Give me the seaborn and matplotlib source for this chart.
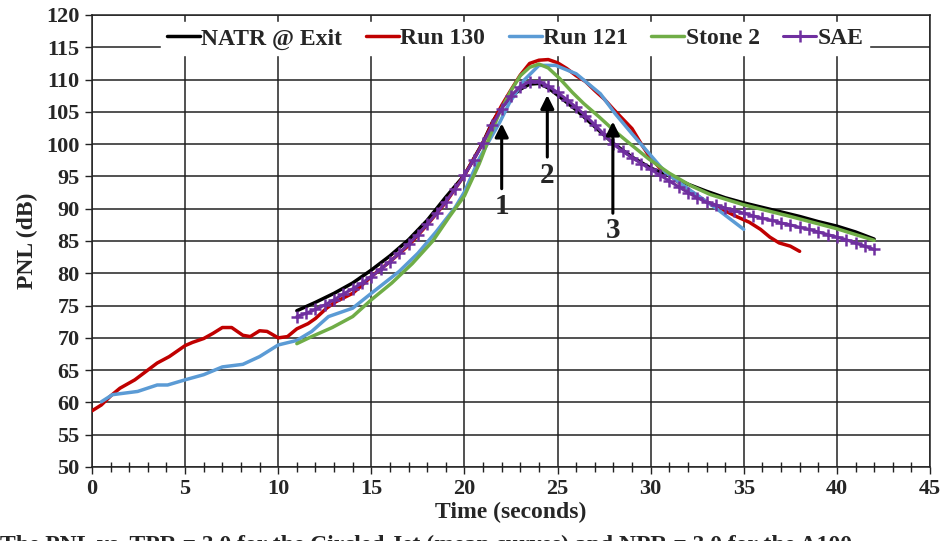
import matplotlib
matplotlib.use("Agg")
import matplotlib.pyplot as plt
import seaborn as sns
import pandas as pd
import numpy as np

# ---- data ----
natr_t = [11, 12, 13, 14, 15, 16, 17, 18, 19, 20, 21, 21.5, 22, 22.5, 23, 23.5, 24, 24.5, 25,
          26, 27, 28, 29, 30, 31, 32, 33, 34, 35, 36, 37, 38, 39, 40, 41, 42]
natr_v = [74.2, 75.5, 76.9, 78.5, 80.5, 82.7, 85.2, 88.2, 91.8, 95.2, 100.3, 103.4, 105.7, 107.3,
          108.5, 109.3, 109.4, 108.7, 107.6, 105.3, 102.7, 100.1, 98.0, 96.3, 95.1, 93.8, 92.7,
          91.7, 90.9, 90.2, 89.5, 88.8, 88.0, 87.3, 86.4, 85.3]

run130_t = [0, 0.5, 1.0, 1.5, 2.3, 2.9, 3.5, 4.15, 5.0, 5.4, 6.0, 6.5, 7.0, 7.5, 8.1, 8.5, 9.0,
            9.4, 10.0, 10.5, 11.0, 11.6, 12.0, 12.6, 13.1, 14.0, 14.4, 15.0, 16, 17, 18, 19, 20,
            21, 21.5, 22, 22.5, 23, 23.5, 24, 24.5, 25, 25.5, 26, 26.5, 27, 27.5, 28, 28.5, 29,
            29.5, 30, 30.5, 31, 31.5, 32.3, 33, 33.5, 34.6, 35.3, 35.9, 36.4, 36.9, 37.5, 38]
run130_v = [58.7, 59.6, 61.0, 62.2, 63.5, 64.8, 66.1, 67.1, 68.8, 69.3, 69.9, 70.7, 71.6, 71.6,
            70.4, 70.2, 71.1, 71.0, 70.0, 70.2, 71.4, 72.2, 73.0, 74.6, 75.6, 76.9, 77.9, 79.5,
            81.8, 84.3, 87.5, 91.0, 95.2, 100.2, 103.3, 106.0, 108.4, 110.7, 112.5, 113.0, 113.1,
            112.6, 111.7, 110.6, 109.7, 108.3, 107.0, 105.4, 103.9, 102.4, 100.0, 97.8, 96.3,
            95.3, 94.1, 92.4, 91.1, 90.4, 88.8, 87.9, 86.8, 85.6, 84.7, 84.2, 83.4]

run121_t = [0.5, 1.1, 2.45, 3.5, 4.06, 5, 6.0, 7.0, 8.1, 9.0, 10, 11, 11.8, 12.7, 14, 15, 16.5,
            17.5, 18.5, 19.5, 20, 20.8, 21.4, 21.9, 22.4, 23.2, 24.0, 24.9, 26.0, 27.3, 28.1, 29,
            29.9, 30.8, 32.1, 33.5, 35]
run121_v = [60.1, 61.2, 61.7, 62.7, 62.7, 63.5, 64.3, 65.5, 65.9, 67.1, 68.9, 69.6, 71.0, 73.3,
            74.6, 76.9, 80.3, 83.1, 86.5, 90.2, 92.6, 97.8, 100.9, 103.4, 106.3, 109.9, 112.2,
            112.2, 110.9, 107.8, 104.7, 101.6, 98.6, 95.6, 92.9, 90.1, 86.8]

stone_t = [11, 11.8, 12.9, 14, 15, 16.1, 17.2, 18.3, 19.2, 20, 20.8, 21.4, 21.9, 22.5, 23, 23.5,
           24.0, 24.5, 25.1, 25.8, 26.4, 27.2, 28, 29, 29.9, 31, 32.2, 33.2, 35, 37.5, 40, 42]
stone_v = [69.1, 70.2, 71.6, 73.3, 75.9, 78.5, 81.5, 85.0, 88.8, 92.0, 97.0, 101.5, 105.0, 108.3,
           110.6, 111.9, 112.4, 111.8, 110.2, 108.0, 106.3, 104.3, 102.2, 99.8, 97.7, 95.5, 93.5,
           92.2, 90.6, 88.8, 86.9, 85.1]

sae_t = [11, 11.5, 12, 12.5, 13, 13.5, 14, 14.5, 15, 15.5, 16, 16.5, 17, 17.5, 18, 18.5, 19, 19.5,
         20, 20.5, 21, 21.5, 22, 22.5, 23, 23.5, 24, 24.5, 25, 25.5, 26, 26.5, 27, 27.5, 28, 28.5,
         29, 29.5, 30, 30.5, 31, 31.5, 32, 32.5, 33, 33.5, 34, 34.5, 35, 35.5, 36, 36.5, 37, 37.5,
         38, 38.5, 39, 39.5, 40, 40.5, 41, 41.5, 42]
sae_v = [73.3, 73.8, 74.4, 75.1, 75.9, 76.8, 77.6, 78.5, 79.5, 80.6, 81.8, 83.1, 84.5, 86.0, 87.6,
         89.3, 91.1, 93.1, 95.2, 97.6, 100.2, 103.0, 105.5, 107.5, 108.9, 109.7, 109.7, 109.0,
         108.0, 106.9, 105.7, 104.4, 103.0, 101.5, 100.0, 98.9, 97.9, 97.0, 96.1, 95.2, 94.3,
         93.4, 92.5, 91.7, 91.0, 90.6, 90.1, 89.7, 89.3, 88.9, 88.5, 88.2, 87.8, 87.5, 87.1, 86.8,
         86.4, 86.0, 85.6, 85.2, 84.7, 84.2, 83.7]

series_names = ["NATR @ Exit", "Run 130", "Run 121", "Stone 2", "SAE"]
series_colors = ["#000000", "#C00000", "#5B9BD5", "#70AD47", "#7030A0"]

arrow_x = [22.0, 24.45, 27.97]
arrow_tip = [103.2, 107.6, 103.5]
arrow_tail = [93.1, 98.0, 89.3]
arrow_labels = ["1", "2", "3"]
arrow_label_y = [90.3, 95.2, 86.7]

x_ticks = [0, 5, 10, 15, 20, 25, 30, 35, 40, 45]
y_ticks = [50, 55, 60, 65, 70, 75, 80, 85, 90, 95, 100, 105, 110, 115, 120]

caption = "The PNL vs. TPR = 3.0 for the Circled Jet (mean curves) and NPR = 3.0 for the A100"

# ---- build frame ----
frames = []
for name, t, v in zip(series_names,
                      [natr_t, run130_t, run121_t, stone_t, sae_t],
                      [natr_v, run130_v, run121_v, stone_v, sae_v]):
    frames.append(pd.DataFrame({"Time": t, "PNL": v, "Series": name}))
df = pd.concat(frames, ignore_index=True)

sns.set_theme(style="white")
serif = ["Liberation Serif", "DejaVu Serif"]
plt.rcParams["font.family"] = serif

fig = plt.figure(figsize=(9.43, 5.41), dpi=100)
ax = fig.add_axes([92 / 943, 1 - 467 / 541, (930 - 92) / 943, (467 - 15) / 541])

zorders = {"NATR @ Exit": 3, "Run 130": 4, "Run 121": 5, "Stone 2": 6, "SAE": 7}
for name, col in zip(series_names, series_colors):
    sub = df[df["Series"] == name]
    if name == "SAE":
        sns.lineplot(data=sub, x="Time", y="PNL", ax=ax, color=col, lw=2.2, marker="+",
                     markersize=9, markeredgewidth=1.8, markeredgecolor=col, sort=False,
                     estimator=None, label=name, zorder=zorders[name])
    else:
        sns.lineplot(data=sub, x="Time", y="PNL", ax=ax, color=col, lw=2.5, sort=False,
                     estimator=None, label=name, zorder=zorders[name])

ax.set_xlim(0, 45)
ax.set_ylim(50, 120)
ax.set_xticks(x_ticks)
ax.set_yticks(y_ticks)
ax.set_xticks(np.arange(0, 46, 1), minor=True)
ax.grid(True, which="major", color="#222222", lw=1.1, zorder=0)
ax.set_axisbelow(True)
for s in ax.spines.values():
    s.set_color("#222222")
    s.set_linewidth(1.1)

ax.tick_params(axis="x", which="major", direction="out", length=5, width=1, color="#222222",
               bottom=True, pad=4)
ax.tick_params(axis="x", which="minor", direction="inout", length=7, width=1, color="#222222",
               bottom=True)
ax.tick_params(axis="y", which="major", direction="out", length=5, width=1, color="#222222",
               left=True, pad=4)
for lab in ax.get_xticklabels() + ax.get_yticklabels():
    lab.set_fontweight("bold")
    lab.set_fontsize(16)
    lab.set_family(serif)

ax.set_xlabel("Time (seconds)", fontsize=17, fontweight="bold", labelpad=2)
ax.set_ylabel("PNL (dB)", fontsize=17, fontweight="bold", labelpad=6)

for x, tip, tail, lab, ly in zip(arrow_x, arrow_tip, arrow_tail, arrow_labels, arrow_label_y):
    ax.annotate("", xy=(x, tip), xytext=(x, tail),
                arrowprops=dict(arrowstyle="-|>", color="black", lw=2.2, mutation_scale=20,
                                shrinkA=0, shrinkB=0), zorder=9)
    ax.text(x, ly, lab, ha="center", va="center", fontsize=21, fontweight="bold", zorder=9)

leg = ax.legend(loc="upper center", bbox_to_anchor=(0.505, 0.995), ncol=5, frameon=True,
                fancybox=False, edgecolor="white", facecolor="white", framealpha=1,
                prop={"family": serif, "weight": "bold", "size": 17},
                handlelength=1.4, handletextpad=0.05, columnspacing=1.0, borderpad=0.25,
                borderaxespad=0.2)
leg.set_zorder(10)

fig.text(0.0, -0.019, caption, ha="left", va="baseline", fontsize=17, fontweight="bold")

fig.savefig("out.png", dpi=100)
